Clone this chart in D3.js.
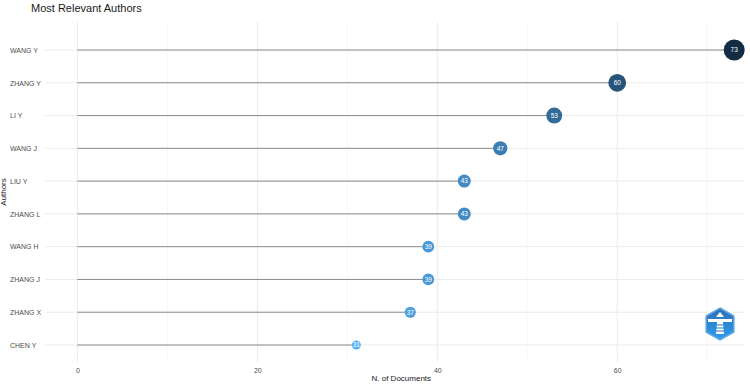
<!DOCTYPE html>
<html>
<head>
<meta charset="utf-8">
<script src="https://cdn.jsdelivr.net/npm/d3@7"></script>
<style>
  body { margin: 0; background: #fff; }
  text { font-family: "Liberation Sans", Arial, sans-serif; }
</style>
</head>
<body>
<div id="chart"></div>
<script>
var authors = ["WANG Y", "ZHANG Y", "LI Y", "WANG J", "LIU Y", "ZHANG L", "WANG H", "ZHANG J", "ZHANG X", "CHEN Y"];
var docs = [73, 60, 53, 47, 43, 43, 39, 39, 37, 31];
var xTicks = [0, 20, 40, 60];
var xMinor = [10, 30, 50, 70];

var width = 750, height = 388;
var margin = { top: 22, right: 5, bottom: 26, left: 45 };

var svg = d3.select('#chart').append('svg')
  .attr('width', width)
  .attr('height', height);

var x = d3.scaleLinear().domain([-3.6, 74.2]).range([margin.left, width - margin.right]);
var y = d3.scalePoint().domain(authors).range([50, 345]);
var r = d3.scaleSqrt().domain([31, 73]).range([4.5, 10.5]);
var color = d3.scaleLinear().domain([31, 73]).range(["#56B1F7", "#132B43"]);

var plotTop = margin.top, plotBottom = height - margin.bottom;

// grid
svg.append('g').selectAll('line.minor').data(xMinor).enter().append('line')
  .attr('x1', d => x(d)).attr('x2', d => x(d))
  .attr('y1', plotTop).attr('y2', plotBottom)
  .attr('stroke', '#f2f2f2').attr('stroke-width', 0.6);
svg.append('g').selectAll('line.major').data(xTicks).enter().append('line')
  .attr('x1', d => x(d)).attr('x2', d => x(d))
  .attr('y1', plotTop).attr('y2', plotBottom)
  .attr('stroke', '#ebebeb').attr('stroke-width', 1);
svg.append('g').selectAll('line.hgrid').data(authors).enter().append('line')
  .attr('x1', margin.left).attr('x2', width - margin.right)
  .attr('y1', d => y(d)).attr('y2', d => y(d))
  .attr('stroke', '#ebebeb').attr('stroke-width', 1);

// x axis
var xAxis = d3.axisBottom(x).tickValues(xTicks).tickSize(0).tickPadding(6);
var axisX = svg.append('g')
  .attr('transform', 'translate(0,' + plotBottom + ')')
  .call(xAxis);
axisX.select('.domain').remove();
axisX.selectAll('text').attr('fill', '#4d4d4d').style('font-size', '7px');

// y axis
var yAxis = d3.axisLeft(y).tickSize(0).tickPadding(6);
var axisY = svg.append('g')
  .attr('transform', 'translate(' + margin.left + ',0)')
  .call(yAxis);
axisY.select('.domain').remove();
axisY.selectAll('text').attr('fill', '#4d4d4d').style('font-size', '7px')
  .attr('text-anchor', 'start').attr('x', 10 - margin.left);

// segments
svg.append('g').selectAll('line').data(authors).enter().append('line')
  .attr('x1', x(0)).attr('x2', (d, i) => x(docs[i]))
  .attr('y1', d => y(d)).attr('y2', d => y(d))
  .attr('stroke', '#8c8c8c').attr('stroke-width', 1);

// points
var pts = svg.append('g').selectAll('g').data(authors).enter().append('g')
  .attr('transform', (d, i) => 'translate(' + x(docs[i]) + ',' + y(d) + ')');
pts.append('circle')
  .attr('r', (d, i) => r(docs[i]))
  .attr('fill', (d, i) => color(docs[i]));
pts.append('text')
  .attr('text-anchor', 'middle').attr('dy', '0.35em')
  .attr('fill', '#fff').style('font-size', '6.5px')
  .text((d, i) => docs[i]);

// titles
svg.append('text').attr('x', 31).attr('y', 12)
  .style('font-size', '11px').attr('fill', '#1a1a1a')
  .text('Most Relevant Authors');
svg.append('text').attr('x', x(36)).attr('y', 381)
  .attr('text-anchor', 'middle').style('font-size', '8px').attr('fill', '#1a1a1a')
  .text('N. of Documents');
svg.append('text')
  .attr('transform', 'translate(6,' + ((plotTop + plotBottom) / 2) + ') rotate(-90)')
  .attr('text-anchor', 'middle').style('font-size', '8px').attr('fill', '#1a1a1a')
  .text('Authors');

// logo
var defs = svg.append('defs');
var grad = defs.append('linearGradient').attr('id', 'lg').attr('x1', 0).attr('y1', 0).attr('x2', 0).attr('y2', 1);
grad.append('stop').attr('offset', '0%').attr('stop-color', '#2f6db5');
grad.append('stop').attr('offset', '100%').attr('stop-color', '#2aa0ef');
var logo = svg.append('g').attr('transform', 'translate(720,324)');
var hex = d3.range(6).map(i => {
  var a = Math.PI / 3 * i - Math.PI / 2;
  return [16 * Math.cos(a), 16 * Math.sin(a)];
});
logo.append('polygon').attr('points', hex.map(p => p.join(',')).join(' '))
  .attr('fill', 'url(#lg)').attr('stroke', '#5fa8e8').attr('stroke-width', 1.5);
logo.append('rect').attr('x', -12).attr('y', -5).attr('width', 24).attr('height', 3).attr('fill', '#fff');
logo.append('path').attr('d', 'M-3,-2 L3,-2 L4,10 L-4,10 Z').attr('fill', '#fff');
logo.append('path').attr('d', 'M0,-12 L-4,-7 L4,-7 Z').attr('fill', '#fff');
logo.selectAll('line.band').data([1, 4, 7]).enter().append('line')
  .attr('x1', -4).attr('x2', 4).attr('y1', d => d).attr('y2', d => d)
  .attr('stroke', '#2a7fd0').attr('stroke-width', 1);
</script>
</body>
</html>
